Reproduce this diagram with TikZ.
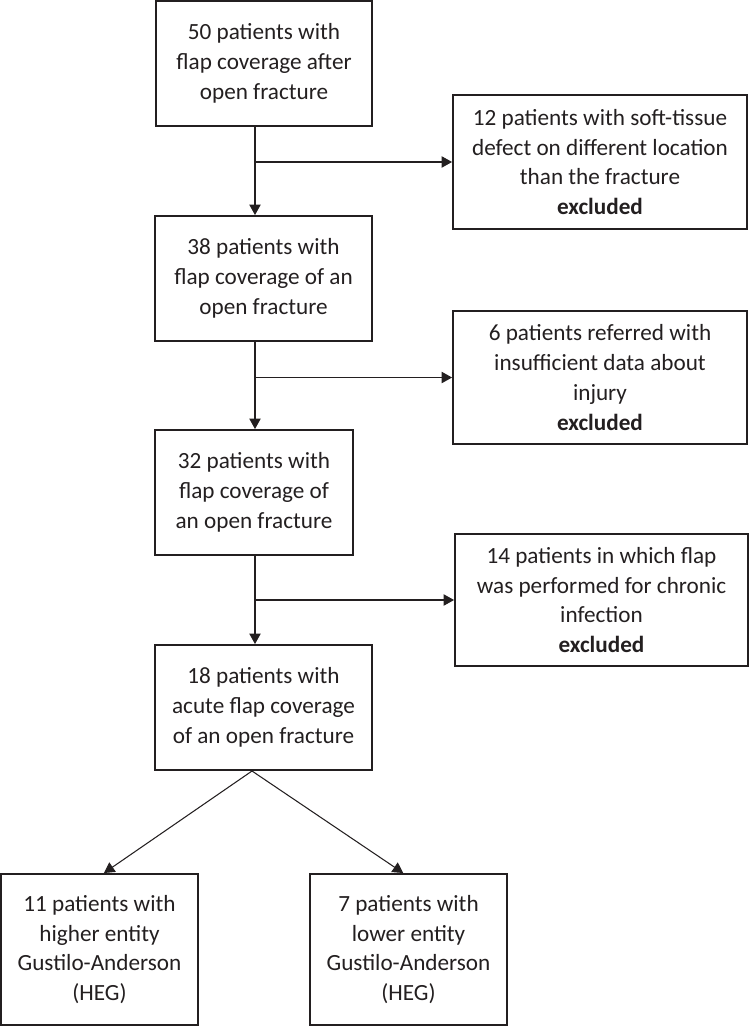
\documentclass[tikz,border=0pt]{standalone}
\usepackage{fontspec}
\setmainfont{Carlito}
\usetikzlibrary{arrows.meta}
\definecolor{ink}{RGB}{35,31,32}
\begin{document}
\begin{tikzpicture}[x=0.02cm,y=-0.02cm]
    \tikzstyle{box}=[rectangle, draw=ink, text=ink, line width=1.1pt, align=center,
                     inner sep=0pt, font=\fontsize{13.2}{17}\selectfont]
    \tikzstyle{link}=[draw=ink, line width=0.6pt, -{Triangle[length=6pt,width=6.5pt]}]
    \useasboundingbox (0,0) rectangle (750,1027);

    % main column
    \node[box, minimum width=4.32cm, minimum height=2.5cm] (all) at (264,63.5)
        {50 patients with\\ flap coverage after\\ open fracture};
    \node[box, minimum width=4.34cm, minimum height=2.5cm] (fracture) at (263.5,278.5)
        {38 patients with\\ flap coverage of an\\ open fracture};
    \node[box, minimum width=3.96cm, minimum height=2.5cm] (data) at (254,492.5)
        {32 patients with\\ flap coverage of\\ an open fracture};
    \node[box, minimum width=4.34cm, minimum height=2.5cm] (acute) at (263.5,707.5)
        {18 patients with\\ acute flap coverage\\ of an open fracture};

    % excluded
    \node[box, minimum width=5.88cm, minimum height=2.68cm] (exlocation) at (600,162)
        {12 patients with soft-tissue\\ defect on different location\\ than the fracture\\ \textbf{excluded}};
    \node[box, minimum width=5.88cm, minimum height=2.66cm] (exdata) at (600,377.5)
        {6 patients referred with\\ insufficient data about\\ injury\\ \textbf{excluded}};
    \node[box, minimum width=5.86cm, minimum height=2.64cm] (exchronic) at (601.5,600)
        {14 patients in which flap\\ was performed for chronic\\ infection\\ \textbf{excluded}};

    % groups
    \node[box, minimum width=3.94cm, minimum height=3.02cm] (higher) at (99.5,949.5)
        {11 patients with\\ higher entity\\ Gustilo-Anderson\\ (HEG)};
    \node[box, minimum width=3.94cm, minimum height=3.02cm] (lower) at (408.5,949.5)
        {7 patients with\\ lower entity\\ Gustilo-Anderson\\ (HEG)};

    \coordinate (spine) at (255,0);
    \coordinate (fork) at (252,771);

    \draw[link] (all.south -| spine) -- (fracture.north -| spine);
    \draw[link] (fracture.south -| spine) -- (data.north -| spine);
    \draw[link] (data.south -| spine) -- (acute.north -| spine);

    \draw[link] (spine |- exlocation.west) -- (exlocation.west);
    \draw[link] (spine |- exdata.west) -- (exdata.west);
    \draw[link] (spine |- exchronic.west) -- (exchronic.west);

    \draw[link] (fork) -- ([xshift=2.5pt]higher.north);
    \draw[link] (fork) -- ([xshift=-3pt]lower.north);

\end{tikzpicture}
\end{document}
